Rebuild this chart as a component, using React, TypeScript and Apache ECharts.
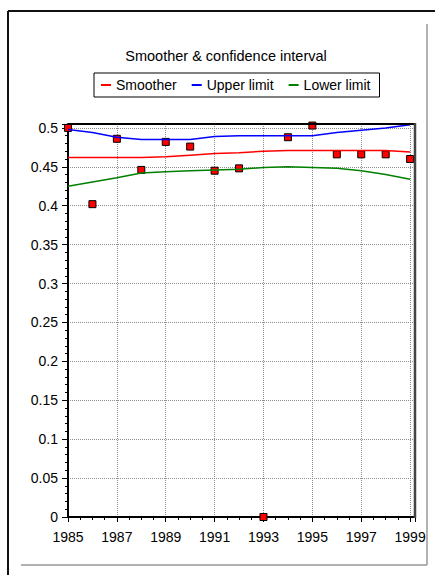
import React, { useEffect, useRef } from "react";
import * as echarts from "echarts";

const years = [1985, 1986, 1987, 1988, 1989, 1990, 1991, 1992, 1993, 1994, 1995, 1996, 1997, 1998, 1999];
const observed = [0.5, 0.402, 0.486, 0.446, 0.482, 0.476, 0.445, 0.448, 0, 0.488, 0.503, 0.466, 0.466, 0.466, 0.46];
const smoother = [0.462, 0.462, 0.462, 0.462, 0.463, 0.465, 0.467, 0.468, 0.47, 0.471, 0.471, 0.471, 0.471, 0.471, 0.469];
const upperLimit = [0.498, 0.494, 0.488, 0.485, 0.485, 0.485, 0.489, 0.49, 0.49, 0.49, 0.49, 0.494, 0.497, 0.5, 0.504];
const lowerLimit = [0.425, 0.4305, 0.436, 0.442, 0.4435, 0.445, 0.446, 0.447, 0.449, 0.45, 0.449, 0.448, 0.445, 0.44, 0.434];

const titleText = "Smoother & confidence interval";
const seriesNames = ["Smoother", "Upper limit", "Lower limit"];

const FONT = "'Liberation Sans', Arial, Helvetica, sans-serif";

export default function App() {
  const ref = useRef<HTMLDivElement>(null);

  useEffect(() => {
    if (!ref.current) return;
    const chart = echarts.init(ref.current, undefined, { renderer: "svg" });
    const pair = (vals: number[]) => years.map((y, i) => [y, vals[i]]);

    const gridL = 68, gridR = 415, gridT = 124, gridB = 517;

    chart.setOption({
      animation: false,
      backgroundColor: "#ffffff",
      title: {
        text: titleText,
        left: 226,
        top: 48,
        textAlign: "center",
        padding: 0,
        textStyle: { fontSize: 14.5, fontWeight: "normal", color: "#000", fontFamily: FONT },
      },
      legend: {
        left: 94,
        top: 73,
        padding: [5, 9, 5, 7],
        borderColor: "#000",
        borderWidth: 1,
        itemGap: 15,
        itemWidth: 10,
        itemHeight: 2,
        textStyle: { fontSize: 14, color: "#000", fontFamily: FONT },
        data: seriesNames.map((n) => ({ name: n, icon: "rect" })),
      },
      grid: { left: gridL, right: 435 - gridR, top: gridT, bottom: 575 - gridB, containLabel: false },
      xAxis: {
        type: "value",
        min: 1985,
        max: 1999.2,
        interval: 2,
        axisLine: { show: true, lineStyle: { color: "#000", width: 2 } },
        axisTick: { show: true, length: 5, lineStyle: { color: "#000" } },
        minorTick: { show: true, splitNumber: 4, length: 3, lineStyle: { color: "#000" } },
        axisLabel: {
          showMaxLabel: false,
          margin: 13,
          fontSize: 14,
          color: "#000",
          fontFamily: FONT,
          formatter: (v: number) => String(Math.round(v)),
        },
        splitLine: { show: true, lineStyle: { color: "#8c8c8c", type: "dotted", width: 1 } },
      },
      yAxis: {
        type: "value",
        min: 0,
        max: 0.505,
        interval: 0.05,
        axisLine: { show: true, lineStyle: { color: "#000", width: 2 } },
        axisTick: { show: true, length: 6, lineStyle: { color: "#000" } },
        minorTick: { show: true, splitNumber: 5, length: 3, lineStyle: { color: "#000" } },
        axisLabel: {
          showMaxLabel: false,
          margin: 10,
          fontSize: 14,
          color: "#000",
          fontFamily: FONT,
        },
        splitLine: { show: true, lineStyle: { color: "#8c8c8c", type: "dotted", width: 1 } },
      },
      series: [
        {
          name: "Observed",
          type: "scatter",
          symbol: "rect",
          symbolSize: 7,
          itemStyle: { color: "#ff0000", borderColor: "#000", borderWidth: 1, opacity: 1 },
          data: pair(observed),
          z: 2,
        },
        {
          name: seriesNames[0],
          type: "line",
          showSymbol: false,
          lineStyle: { color: "#ff0000", width: 1.5 },
          itemStyle: { color: "#ff0000" },
          data: pair(smoother),
          z: 3,
        },
        {
          name: seriesNames[1],
          type: "line",
          showSymbol: false,
          lineStyle: { color: "#0000ff", width: 1.5 },
          itemStyle: { color: "#0000ff" },
          data: pair(upperLimit),
          z: 3,
        },
        {
          name: seriesNames[2],
          type: "line",
          showSymbol: false,
          lineStyle: { color: "#008000", width: 1.5 },
          itemStyle: { color: "#008000" },
          data: pair(lowerLimit),
          z: 3,
        },
      ],
      graphic: [
        { type: "line", z: 100, shape: { x1: gridL, y1: gridT, x2: gridR, y2: gridT }, style: { stroke: "#000", lineWidth: 2 } },
        { type: "line", z: 100, shape: { x1: gridR, y1: gridT - 1, x2: gridR, y2: gridB + 1 }, style: { stroke: "#444", lineWidth: 2.5 } },
        { type: "line", z: 100, shape: { x1: 8, y1: 11, x2: 435, y2: 11 }, style: { stroke: "#111", lineWidth: 2 } },
        { type: "line", z: 100, shape: { x1: 8, y1: 11, x2: 8, y2: 575 }, style: { stroke: "#111", lineWidth: 2 } },
        { type: "line", z: 100, shape: { x1: 427, y1: 24, x2: 427, y2: 565 }, style: { stroke: "#999", lineWidth: 1.5 } },
        { type: "line", z: 100, shape: { x1: 21, y1: 565, x2: 427, y2: 565 }, style: { stroke: "#999", lineWidth: 1.5 } },
      ],
    });
    return () => chart.dispose();
  }, []);

  return (
    <div
      ref={ref}
      style={{ position: "fixed", left: 0, top: 0, width: 435, height: 575, background: "#fff" }}
    />
  );
}
